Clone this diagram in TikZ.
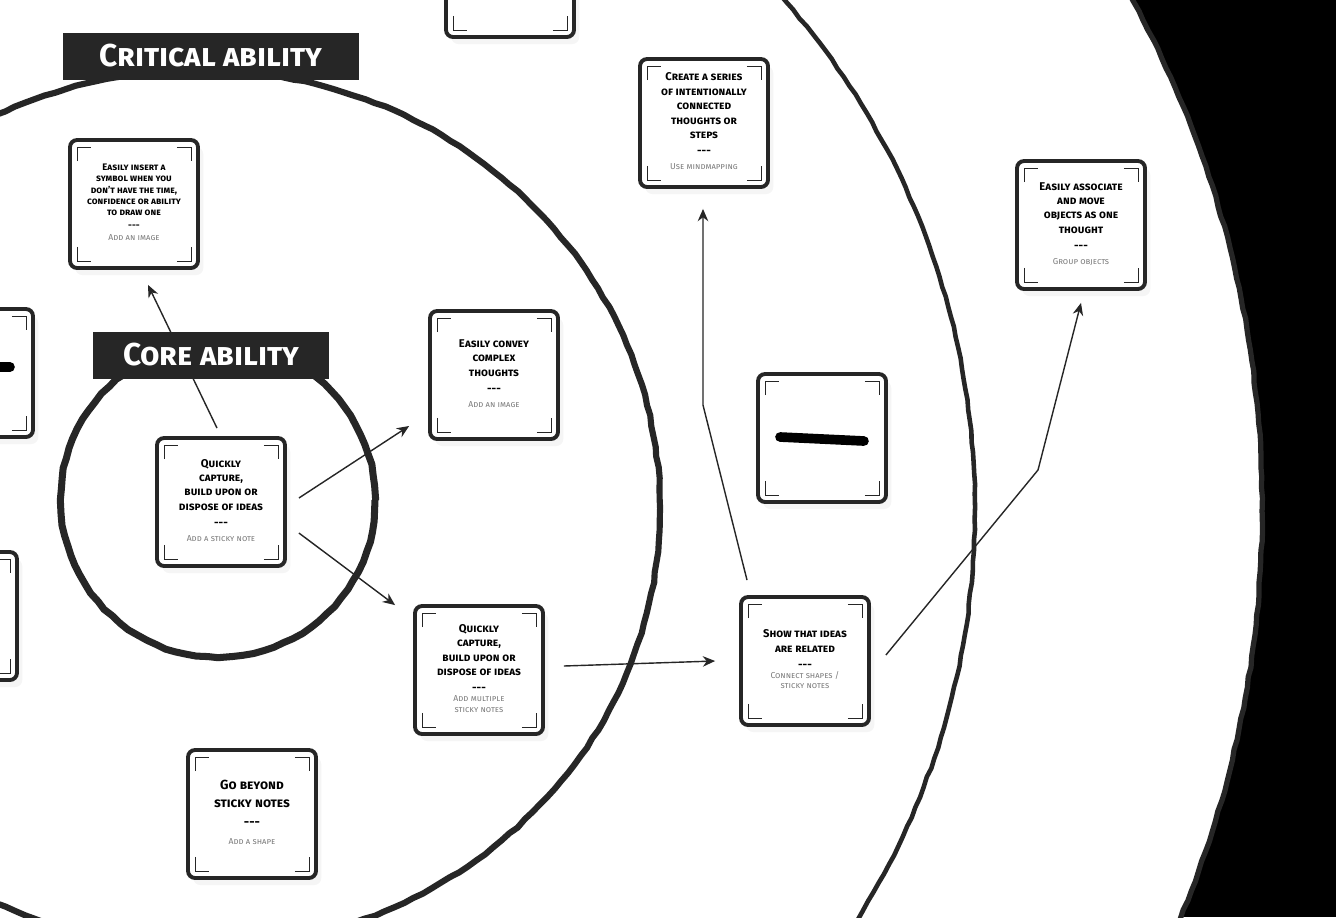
\documentclass[tikz,border=0pt]{standalone}
\usepackage{fontspec}
\setmainfont{Fira Sans}
\usetikzlibrary{arrows.meta,shadows,decorations.pathmorphing}
\definecolor{ink}{HTML}{262626}
\definecolor{hint}{HTML}{7C7C7C}

% text of one card: idea, dashes, hint
\newcommand{\ideatext}[2]{#1\\[1pt]{-}{-}{-}\\[0.5pt]{\color{hint}\mdseries\fontsize{4.9}{6}\selectfont
  \begin{tabular}{@{}c@{}}#2\end{tabular}}}

\begin{document}
\begin{tikzpicture}[x=0.02cm, y=-0.02cm,
    card/.style={draw=ink, line width=2.2pt, rounded corners=4pt, fill=white,
                 minimum width=2.56cm, minimum height=2.56cm, align=center,
                 inner sep=0pt, font=\scshape\bfseries\fontsize{6.4}{8.2}\selectfont,
                 drop shadow={opacity=0.08, shadow xshift=3pt, shadow yshift=-4pt},
                 path picture={
                   \draw[line width=0.5pt, sharp corners]
                     ([shift={(4pt,-12pt)}]path picture bounding box.north west) -- ++(0pt,8pt) -- ++(8pt,0pt)
                     ([shift={(-12pt,-4pt)}]path picture bounding box.north east) -- ++(8pt,0pt) -- ++(0pt,-8pt)
                     ([shift={(4pt,12pt)}]path picture bounding box.south west) -- ++(0pt,-8pt) -- ++(8pt,0pt)
                     ([shift={(-12pt,4pt)}]path picture bounding box.south east) -- ++(8pt,0pt) -- ++(0pt,8pt);}},
    ring/.style={draw=ink, decorate,
                 decoration={random steps, segment length=6pt, amplitude=0.4pt}},
    tag/.style={fill=ink, text=white, inner sep=0pt, minimum height=0.94cm,
                font=\scshape\bfseries\fontsize{18}{20}\selectfont},
    arr/.style={-{Stealth[length=7pt,width=6pt]}, line width=0.8pt, ink},
  ]
    \useasboundingbox (0,0) rectangle (1336,917);
    \clip (0,0) rectangle (1336,917);

    % rings
    \fill[black] (0,0) rectangle (1336,917);
    \fill[white] (200,509) circle [radius=1062];
    \draw[ring, line width=3pt] (200,509) circle [radius=1062];
    \draw[ring, line width=2.6pt] (200,509) circle [radius=775];
    \draw[ring, line width=3.5pt] (200,509) ellipse [x radius=460, y radius=439];
    \draw[ring, line width=4pt] (218,500) circle [radius=157];

    % cards
    \node[card, font=\scshape\bfseries\fontsize{5.4}{6.4}\selectfont] (symbol) at (134,204)
          {\ideatext{Easily insert a\\symbol when you\\don't have the time,\\confidence or ability\\to draw one}{Add an image}};
    \node[card] (capture) at (221,502)
          {\ideatext{Quickly\\capture,\\build upon or\\dispose of ideas}{Add a sticky note}};
    \node[card] (convey) at (494,375)
          {\ideatext{Easily convey\\complex\\thoughts}{Add an image}};
    \node[card] (multi) at (479,670)
          {\ideatext{Quickly\\capture,\\build upon or\\dispose of ideas}{Add multiple\\sticky notes}};
    \node[card, font=\scshape\bfseries\fontsize{7.5}{10}\selectfont] (beyond) at (252,814)
          {\ideatext{Go beyond\\sticky notes}{Add a shape}};
    \node[card] (series) at (704,123)
          {\ideatext{Create a series\\of intentionally\\connected\\thoughts or\\steps}{Use mindmapping}};
    \node[card] (lineicon) at (822,438) {};
    \node[card] (relate) at (805,661)
          {\ideatext{Show that ideas\\are related}{Connect shapes /\\sticky notes}};
    \node[card] (group) at (1081,225)
          {\ideatext{Easily associate\\and move\\objects as one\\thought}{Group objects}};
    \node[card] (leftline) at (-31,373) {};
    \node[card] (leftnote) at (-47,616) {};
    \node[card] (topnote) at (510,-27) {};

    % icons
    \draw[line width=5.5pt, line cap=round] ([shift={(-42,-1)}]lineicon.center) -- ([shift={(42,3)}]lineicon.center);
    \draw[line width=5.5pt, line cap=round] ([shift={(-42,-6)}]leftline.center) -- ([shift={(41,-6)}]leftline.center);

    % arrows
    \coordinate (bendA) at (703,405);
    \coordinate (bendB) at (1038,470);
    \draw[arr] ([shift={(-4,-8)}]capture.north) -- ([shift={(14,15)}]symbol.south);
    \draw[arr] ([shift={(12,-4)}]capture.east) -- ([shift={(-19,51)}]convey.west);
    \draw[arr] ([shift={(12,31)}]capture.east) -- ([shift={(-18,1)}]multi.north west);
    \draw[arr] ([shift={(19,-4)}]multi.east) -- ([shift={(-24,0)}]relate.west);
    \draw[arr] ([shift={(-58,-15)}]relate.north) -- (bendA) -- ([shift={(-1,20)}]series.south);
    \draw[arr] ([shift={(15,-6)}]relate.east) -- (bendB) -- ([shift={(0,12)}]group.south);

    % ring titles
    \node[tag, minimum width=5.94cm] (critical) at (211,56) {Critical ability};
    \node[tag, minimum width=4.74cm] (coretag)  at (211,355) {Core ability};
\end{tikzpicture}
\end{document}
